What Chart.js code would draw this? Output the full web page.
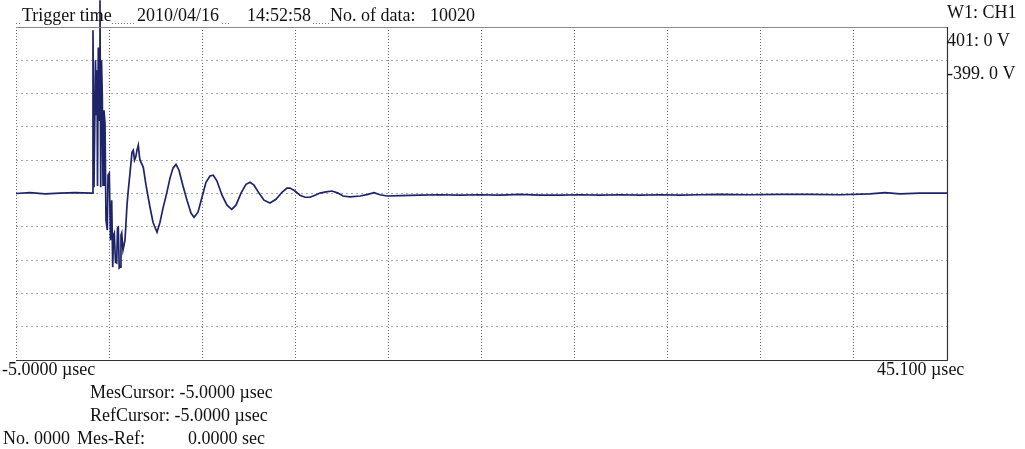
<!DOCTYPE html>
<html>
<head>
<meta charset="utf-8">
<script src="https://cdn.jsdelivr.net/npm/chart.js@4.4.1/dist/chart.umd.min.js"></script>
<style>
  html, body { margin: 0; padding: 0; background: #ffffff; }
  #wrap { width: 1025px; height: 449px; position: relative; }
</style>
</head>
<body>
<div id="wrap"><canvas id="c" width="1025" height="449"></canvas></div>
<script>
// ---- data (time in µsec, voltage in V) ----
const timeUs = [
  -5.000, -4.247, -3.439, -2.632, -1.825, -0.910, -0.857, -0.803, -0.722, -0.668,
  -0.641, -0.614, -0.571, -0.533, -0.480, -0.442, -0.399, -0.356, -0.318, -0.265,
  -0.211, -0.157, -0.087, -0.049, 0.021, 0.085, 0.150, 0.204, 0.247, 0.290,
  0.354, 0.419, 0.462, 0.505, 0.554, 0.597, 0.650, 0.688, 0.758, 0.866,
  0.973, 1.043, 1.135, 1.242, 1.312, 1.377, 1.441, 1.511, 1.581, 1.635,
  1.673, 1.850, 1.996, 2.211, 2.372, 2.588, 2.749, 2.911, 3.110, 3.287,
  3.449, 3.610, 3.771, 3.987, 4.202, 4.417, 4.579, 4.794, 5.009, 5.224,
  5.440, 5.617, 5.816, 6.085, 6.354, 6.607, 6.838, 7.108, 7.377, 7.592,
  7.807, 8.076, 8.345, 8.668, 8.991, 9.314, 9.583, 9.745, 10.014, 10.283,
  10.552, 10.821, 11.090, 11.359, 11.682, 12.005, 12.328, 12.597, 12.974, 13.512,
  13.942, 14.265, 14.588, 14.964, 15.664, 16.740, 17.817, 18.893, 19.969, 21.045,
  22.122, 23.198, 24.274, 25.350, 26.427, 27.503, 28.579, 29.656, 30.732, 31.808,
  32.884, 34.499, 36.113, 37.728, 39.342, 40.956, 41.764, 42.571, 43.647, 45.100
];
const voltsV = [
  1, 3, 0, 2, 3, 2, 393, 16, 321, 189,
  297, 19, 352, 177, 465, 16, 321, 237, 21, 201,
  170, -63, -87, 45, 50, -111, -15, -176, -99, -94,
  -164, -166, -82, -80, -178, -176, -99, -94, -135, -111,
  -27, 9, 50, 100, 105, 81, 88, 105, 117, 93,
  81, 64, 21, -32, -68, -92, -68, -34, 2, 38,
  62, 71, 57, 19, -15, -46, -56, -44, -8, 28,
  43, 45, 31, -3, -27, -37, -27, 2, 23, 28,
  21, 2, -15, -22, -13, 4, 14, 14, 7, -3,
  -8, -8, -3, 2, 5, 7, 2, -5, -7, -5,
  -1, 3, -2, -5, -4, -3, -2, -3, -2, -3,
  -1, -3, -3, -2, -3, -2, -3, -2, -3, -2,
  -1, -2, -1, -1, -2, 0, 3, 0, 2, 2
];
const xMin = -5.0, xMax = 45.1, xDivisions = 10;
const yMin = -399, yMax = 401, yDivisions = 10;

const headerParts = [
  ["Trigger time", 22], ["2010/04/16", 137], ["14:52:58", 247], ["No. of data:", 330], ["10020", 430]
];
const sideLabels = ["W1: CH1", "401: 0 V", "-399. 0 V"];
const xStartLabel = "-5.0000 µsec";
const xEndLabel = "45.100 µsec";
const cursorLines = ["MesCursor: -5.0000 µsec", "RefCursor: -5.0000 µsec"];
const footerParts = [["No. 0000", 3], ["Mes-Ref:", 77], ["0.0000 sec", 188]];

const points = timeUs.map((t, i) => ({ x: t, y: voltsV[i] }));

const FONT = '18px "Liberation Serif", "Times New Roman", serif';

const decor = {
  id: 'decor',
  afterDraw(chart) {
    const ctx = chart.ctx;
    const a = chart.chartArea;
    ctx.save();
    // top border (gray, solid)
    ctx.strokeStyle = '#8a8a8a';
    ctx.lineWidth = 1.2;
    ctx.beginPath(); ctx.moveTo(a.left, a.top + 0.5); ctx.lineTo(a.right, a.top + 0.5); ctx.stroke();
    // right border (dark, solid)
    ctx.strokeStyle = '#333';
    ctx.lineWidth = 1.2;
    ctx.beginPath(); ctx.moveTo(a.right + 0.5, a.top); ctx.lineTo(a.right + 0.5, a.bottom); ctx.stroke();
    // bottom border
    ctx.beginPath(); ctx.moveTo(a.left, a.bottom + 0.5); ctx.lineTo(a.right + 1, a.bottom + 0.5); ctx.stroke();

    // dotted leaders in header gaps
    ctx.strokeStyle = '#777';
    ctx.lineWidth = 1;
    ctx.setLineDash([1, 2]);
    const gaps = [[16, 22], [112, 136], [222, 231], [313, 329]];
    gaps.forEach(g => { ctx.beginPath(); ctx.moveTo(g[0], 23.5); ctx.lineTo(g[1], 23.5); ctx.stroke(); });
    ctx.setLineDash([]);

    ctx.fillStyle = '#111';
    ctx.font = FONT;
    ctx.textBaseline = 'alphabetic';
    ctx.textAlign = 'left';
    headerParts.forEach(p => ctx.fillText(p[0], p[1], 21));
    ctx.fillText(sideLabels[0], a.right + 0, 18);
    ctx.fillText(sideLabels[1], a.right + 0, 46);
    ctx.fillText(sideLabels[2], a.right + 0, 79);
    ctx.fillText(xStartLabel, 2, a.bottom + 15);
    ctx.fillText(xEndLabel, 877, a.bottom + 15);
    ctx.fillText(cursorLines[0], 90, 398);
    ctx.fillText(cursorLines[1], 90, 421);
    footerParts.forEach(p => ctx.fillText(p[0], p[1], 444));
    ctx.restore();
  }
};

function evenTicks(min, max, n) {
  const out = [];
  for (let i = 0; i <= n; i++) out.push({ value: min + (max - min) * i / n });
  return out;
}

new Chart(document.getElementById('c'), {
  type: 'line',
  data: {
    datasets: [{
      data: points,
      borderColor: '#1e2468',
      borderWidth: 1.7,
      pointRadius: 0,
      fill: false,
      tension: 0,
      clip: false
    }]
  },
  options: {
    responsive: false,
    animation: false,
    events: [],
    layout: { padding: { left: 16, right: 78, top: 27, bottom: 89 } },
    plugins: { legend: { display: false }, tooltip: { enabled: false }, title: { display: false } },
    scales: {
      x: {
        type: 'linear', min: xMin, max: xMax,
        afterBuildTicks: s => { s.ticks = evenTicks(xMin, xMax, xDivisions); },
        afterFit: s => { s.height = 0; },
        ticks: { display: false },
        border: { display: false, dash: [1, 2] },
        grid: { drawTicks: false, color: '#6e6e6e', lineWidth: 1, tickLength: 0 },
      },
      y: {
        type: 'linear', min: yMin, max: yMax,
        afterBuildTicks: s => { s.ticks = evenTicks(yMin, yMax, yDivisions); },
        afterFit: s => { s.width = 0; },
        ticks: { display: false },
        border: { display: false, dash: [2, 3] },
        grid: { drawTicks: false, color: '#a8a8a8', lineWidth: 1, tickLength: 0 },
      }
    }
  },
  plugins: [decor]
});
</script>
</body>
</html>
